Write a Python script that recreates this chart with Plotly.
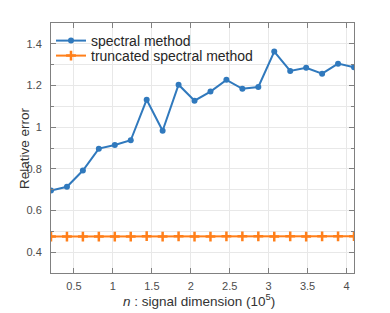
import plotly.graph_objects as go

x_vals = [0.2048 * k for k in range(1, 21)]
spectral = [0.696, 0.714, 0.792, 0.897, 0.914, 0.937, 1.132, 0.983, 1.204, 1.127,
            1.171, 1.227, 1.184, 1.193, 1.363, 1.270, 1.285, 1.257, 1.305, 1.288]
truncated = [0.475, 0.475, 0.475, 0.475, 0.475, 0.475, 0.477, 0.475, 0.476, 0.475,
             0.475, 0.476, 0.476, 0.476, 0.475, 0.476, 0.475, 0.476, 0.476, 0.477]

x_title = "<i>n</i> : signal dimension (10<sup>5</sup>)"
y_title = "Relative error"

blue = "#3079BD"
orange = "#FF7F1A"
FONT = "Liberation Sans, Arial, Helvetica"

fig = go.Figure()
fig.add_trace(go.Scatter(x=x_vals, y=spectral, mode="lines+markers", name="spectral method",
                         line=dict(color=blue, width=2),
                         marker=dict(symbol="circle", size=6, color=blue),
                         legend="legend"))
fig.add_trace(go.Scatter(x=x_vals, y=truncated, mode="lines+markers", name="truncated spectral method",
                         line=dict(color=orange, width=2),
                         marker=dict(symbol="cross-thin", size=7, color=orange,
                                     line=dict(color=orange, width=2.5)),
                         legend="legend2"))

axis_common = dict(showline=True, linecolor="#808080", linewidth=1, mirror="ticks",
                   ticks="inside", ticklen=5, tickcolor="#808080",
                   gridcolor="#E8E8E8", gridwidth=1, zeroline=False, automargin=False,
                   tickfont=dict(family=FONT, size=11, color="#4D4D4D"))

fig.update_xaxes(range=[0.2048, 4.096], tick0=0.5, dtick=0.5, ticklabelstandoff=3,
                 **axis_common)
fig.update_yaxes(range=[0.3, 1.5], tick0=0.4, dtick=0.2, ticklabelstandoff=6,
                 minor=dict(dtick=0.1, tick0=0.3, showgrid=True, gridcolor="#E8E8E8",
                            ticks="inside", ticklen=3, tickcolor="#808080"),
                 **axis_common)

leg_common = dict(x=0, xanchor="left", yanchor="middle", bgcolor="rgba(0,0,0,0)",
                  font=dict(family=FONT, size=14, color="#262626"),
                  itemwidth=30, borderwidth=0)

fig.add_shape(type="rect", xref="paper", yref="paper", x0=0.003, x1=0.673, y0=0.84, y1=0.96,
              fillcolor="white", line=dict(width=0), layer="between")

fig.update_layout(
    width=390, height=313,
    margin=dict(l=51, r=36, t=23, b=40),
    paper_bgcolor="white", plot_bgcolor="white",
    showlegend=True,
    legend=dict(y=1 - (41 - 23) / 250, **leg_common),
    legend2=dict(y=1 - (56 - 23) / 250, **leg_common),
    annotations=[
        dict(text=y_title, xref="paper", yref="paper", x=(24 - 51) / 303, y=0.5,
             xanchor="center", yanchor="middle", textangle=-90, showarrow=False,
             font=dict(family=FONT, size=13.5, color="#333333")),
        dict(text=x_title, xref="paper", yref="paper", x=(199 - 51) / 303, y=(273 - 300) / 250,
             xanchor="center", yanchor="middle", showarrow=False,
             font=dict(family=FONT, size=13.5, color="#333333")),
    ],
)

fig.write_html("out.html", config={"displayModeBar": False},
               post_script="document.body.style.margin='0';")
